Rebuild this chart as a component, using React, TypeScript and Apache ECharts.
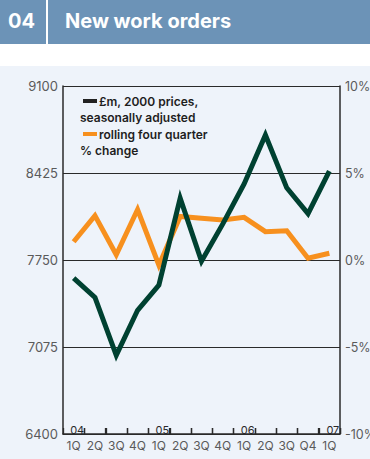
import React, { useEffect, useRef } from "react";
import * as echarts from "echarts";

const quarters = ["1Q", "2Q", "3Q", "4Q", "1Q", "2Q", "3Q", "4Q", "1Q", "2Q", "3Q", "Q4", "1Q"];
const yearMarks = ["04", "", "", "", "05", "", "", "", "06", "", "", "", "07"];
const ordersValues = [7610, 7460, 7010, 7360, 7555, 8230, 7740, 8030, 8340, 8720, 8310, 8110, 8440];
const changeValues = [1.05, 2.55, 0.3, 2.9, -0.3, 2.5, 2.4, 2.3, 2.45, 1.63, 1.68, 0.1, 0.39];
const leftTicks = { min: 6400, max: 9100, interval: 675 };
const rightTicks = { min: -10, max: 10, interval: 5 };

const GREEN = "#004131";
const ORANGE = "#f7901e";
const HEADER = "#6c93b7";
const BG = "#eef3fa";
const AXIS = "#2a2a2a";
const LABEL = "#5a5a5a";
const FONT = "Inter, 'DejaVu Sans', sans-serif";

export default function App() {
  const ref = useRef<HTMLDivElement>(null);
  useEffect(() => {
    if (!ref.current) return;
    const chart = echarts.init(ref.current, undefined, { renderer: "svg" });
    chart.setOption({
      animation: false,
      backgroundColor: BG,
      graphic: [
        { type: "rect", shape: { x: 0, y: 0, width: 370, height: 66 }, style: { fill: "#ffffff" } },
        { type: "rect", shape: { x: 0, y: 0, width: 370, height: 44 }, style: { fill: HEADER } },
        { type: "rect", shape: { x: 46, y: 0, width: 2, height: 44 }, style: { fill: "#ffffff" } },
        {
          type: "text", x: 8, y: 21,
          style: { text: "04", fill: "#ffffff", font: `700 20px ${FONT}`, verticalAlign: "middle" },
        },
        {
          type: "text", x: 65, y: 21,
          style: { text: "New work orders", fill: "#ffffff", font: `700 20px ${FONT}`, verticalAlign: "middle" },
        },
        { type: "rect", shape: { x: 83, y: 99, width: 14, height: 4 }, style: { fill: "#222222" } },
        {
          type: "text", x: 99, y: 101,
          style: { text: "£m, 2000 prices,", fill: "#1e1e1e", font: `600 12px ${FONT}`, verticalAlign: "middle" },
        },
        {
          type: "text", x: 80, y: 117.5,
          style: { text: "seasonally adjusted", fill: "#1e1e1e", font: `600 12px ${FONT}`, verticalAlign: "middle" },
        },
        { type: "rect", shape: { x: 83, y: 132, width: 14, height: 4 }, style: { fill: ORANGE } },
        {
          type: "text", x: 99, y: 134,
          style: { text: "rolling four quarter", fill: "#1e1e1e", font: `600 12px ${FONT}`, verticalAlign: "middle" },
        },
        {
          type: "text", x: 80, y: 150.5,
          style: { text: "% change", fill: "#1e1e1e", font: `600 12px ${FONT}`, verticalAlign: "middle" },
        },
      ],
      grid: { left: 63, right: 30, top: 86, bottom: 25, containLabel: false, outerBoundsMode: "none" },
      xAxis: [
        {
          type: "category",
          data: quarters,
          boundaryGap: true,
          axisLine: { show: true, onZero: false, lineStyle: { color: AXIS, width: 1.5 } },
          axisTick: {
            show: true, interval: 0, inside: true, length: 6,
            lineStyle: { color: AXIS, width: 1.3 },
          },
          axisLabel: { interval: 0, color: LABEL, fontSize: 12, fontFamily: FONT, margin: 5 },
        },
        {
          type: "category",
          data: yearMarks,
          position: "bottom",
          boundaryGap: true,
          axisLine: { show: false, onZero: false },
          axisTick: { show: false },
          axisLabel: {
            interval: 0, inside: true, color: "#2a2a2a", fontSize: 11, fontFamily: FONT, margin: -1,
            lineHeight: 11, padding: [0, 0, 0, 7],
          },
          splitLine: { show: false },
        },
      ],
      yAxis: [
        {
          type: "value",
          position: "left",
          min: leftTicks.min, max: leftTicks.max, interval: leftTicks.interval,
          axisLine: { show: true, lineStyle: { color: AXIS, width: 1.5 } },
          axisTick: { show: false },
          axisLabel: {
            color: LABEL, fontSize: 13, fontFamily: FONT, margin: 5,
            formatter: (v: number) => String(v),
          },
          splitLine: { show: true, lineStyle: { color: AXIS, width: 1 } },
        },
        {
          type: "value",
          position: "right",
          min: rightTicks.min, max: rightTicks.max, interval: rightTicks.interval,
          axisLine: { show: true, lineStyle: { color: AXIS, width: 1.5 } },
          axisTick: { show: false },
          axisLabel: {
            color: LABEL, fontSize: 12.5, fontFamily: FONT, margin: 5,
            formatter: (v: number) => `${v}%`,
          },
          splitLine: { show: false },
        },
      ],
      series: [
        {
          type: "custom",
          name: "quarter ticks",
          xAxisIndex: 0,
          yAxisIndex: 0,
          silent: true,
          z: 4,
          data: quarters.map((_, i) => [i, leftTicks.min]),
          renderItem: (params: any, api: any) => {
            const pt = api.coord([api.value(0), api.value(1)]);
            const band = api.size([1, 0])[0];
            const x = Math.round(pt[0] + band / 2) + 0.5;
            return {
              type: "line",
              shape: { x1: x, y1: pt[1], x2: x, y2: pt[1] - 6 },
              style: { stroke: AXIS, lineWidth: 1.3 },
            };
          },
        },
        {
          type: "line",
          name: "rolling four quarter % change",
          yAxisIndex: 1,
          data: changeValues,
          symbol: "none",
          z: 2,
          lineStyle: { color: ORANGE, width: 5, join: "miter", cap: "butt" },
        },
        {
          type: "line",
          name: "£m, 2000 prices, seasonally adjusted",
          yAxisIndex: 0,
          data: ordersValues,
          symbol: "none",
          z: 3,
          lineStyle: { color: GREEN, width: 5, join: "miter", cap: "butt" },
        },
      ],
    });
    return () => chart.dispose();
  }, []);
  return (
    <div
      ref={ref}
      style={{ position: "absolute", left: 0, top: 0, width: 370, height: 459 }}
    />
  );
}
